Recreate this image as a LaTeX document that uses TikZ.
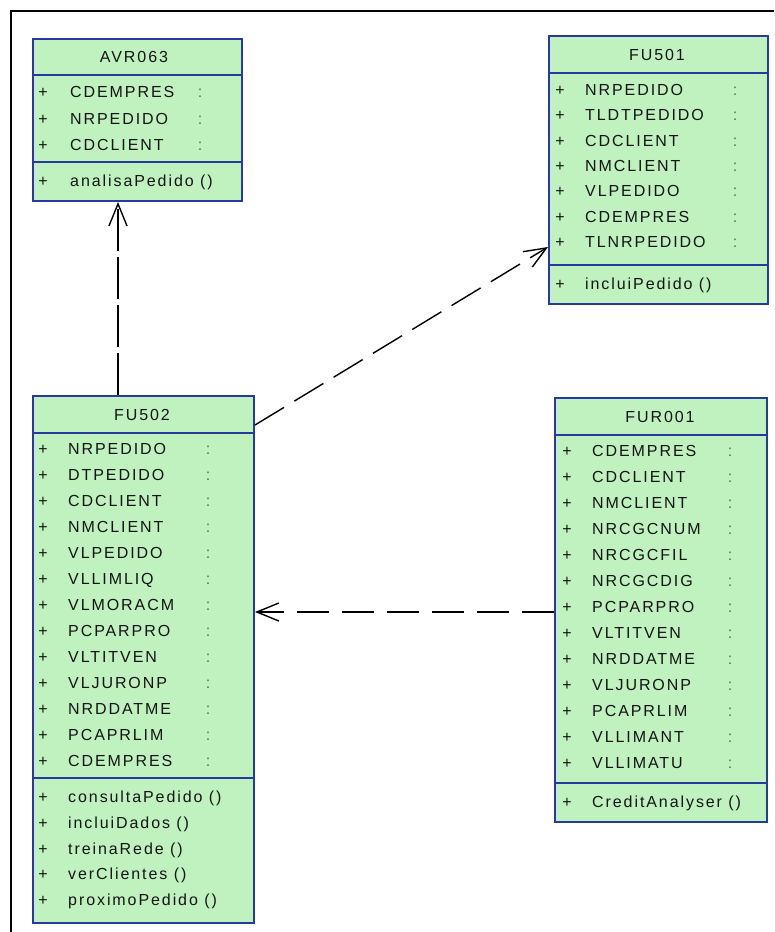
\documentclass[tikz,border=0pt]{standalone}
\usepackage{fontspec}
\setmainfont{Liberation Sans}
\newfontfamily\umlfont[LetterSpace=12]{Liberation Sans}
\usetikzlibrary{arrows.meta}
\definecolor{classfill}{RGB}{192,242,192}
\definecolor{classline}{RGB}{40,58,160}
\definecolor{colongray}{RGB}{95,105,95}
\definecolor{inktext}{RGB}{20,20,20}
\tikzset{
  classbox/.style={draw=classline, line width=2pt, fill=classfill, rectangle, inner sep=0pt, anchor=north west},
  divider/.style={draw=classline, line width=2pt},
  txt/.style={font=\umlfont\fontsize{16}{18}\selectfont, inner sep=0pt, anchor=base west, text=inktext},
  plussign/.style={font=\fontsize{16}{18}\selectfont, inner sep=0pt, anchor=base, text=inktext},
  ttl/.style={font=\umlfont\fontsize{16}{18}\selectfont, inner sep=0pt, anchor=base, text=inktext},
  colonmark/.style={font=\fontsize{16}{18}\selectfont, inner sep=0pt, anchor=base, text=colongray},
  dep/.style={draw=black, line width=1.4pt, -{Straight Barb[length=22pt,width=18pt,line width=1.4pt]}},
}
% #1 prefix, #2 plus-x, #3 name-x, #4 colon-x, #5 first-y, #6 spacing, #7 list
\newcommand\umlattrs[7]{%
  \foreach \n [count=\i from 0] in {#7} {
    \node[plussign] (#1p\i) at (#2,{#5+#6*\i+5.5}) {+};
    \node[txt] (#1n\i) at (#3,{#5+#6*\i+5.5}) {\n};
    \node[colonmark] (#1c\i) at (#4,{#5+#6*\i+5.5}) {:};
  }}
% #1 prefix, #2 plus-x, #3 name-x, #4 first-y, #5 spacing, #6 list
\newcommand\umlops[6]{%
  \foreach \n [count=\i from 0] in {#6} {
    \node[plussign] (#1q\i) at (#2,{#4+#5*\i+5.5}) {+};
    \node[txt] (#1m\i) at (#3,{#4+#5*\i+5.5}) {\n\ ()};
  }}
\begin{document}
\begin{tikzpicture}[x=1pt,y=-1pt]
\useasboundingbox (0,0) rectangle (774,932);
\fill[white] (0,0) rectangle (774,932);
\draw[line width=1.5pt] (11,932) -- (11,11) -- (774,11);

% AVR063
\node[classbox, minimum width=209pt, minimum height=162pt] (avr) at (32,38) {};
\draw[divider] (32,75) -- (241,75);
\draw[divider] (32,162) -- (241,162);
\node[ttl] (avrt) at (134,62) {AVR063};
\umlattrs{avr}{43}{70}{200}{92}{26.5}{CDEMPRES,NRPEDIDO,CDCLIENT}
\umlops{avr}{43}{70}{181}{26}{analisaPedido}

% FU501
\node[classbox, minimum width=219pt, minimum height=268pt] (fu501) at (548,35) {};
\draw[divider] (548,73) -- (767,73);
\draw[divider] (548,265) -- (767,265);
\node[ttl] (fu501t) at (657,60) {FU501};
\umlattrs{fua}{560}{585}{735}{90}{25.3}{NRPEDIDO,TLDTPEDIDO,CDCLIENT,NMCLIENT,VLPEDIDO,CDEMPRES,TLNRPEDIDO}
\umlops{fua}{560}{585}{284}{26}{incluiPedido}

% FU502
\node[classbox, minimum width=221pt, minimum height=527pt] (fu502) at (32,395) {};
\draw[divider] (32,433) -- (253,433);
\draw[divider] (32,778) -- (253,778);
\node[ttl] (fu502t) at (142,420) {FU502};
\umlattrs{fub}{43}{68}{208}{449}{26}{NRPEDIDO,DTPEDIDO,CDCLIENT,NMCLIENT,VLPEDIDO,VLLIMLIQ,VLMORACM,PCPARPRO,VLTITVEN,VLJURONP,NRDDATME,PCAPRLIM,CDEMPRES}
\umlops{fub}{43}{68}{797}{25.75}{consultaPedido,incluiDados,treinaRede,verClientes,proximoPedido}

% FUR001
\node[classbox, minimum width=212pt, minimum height=424pt] (fur) at (554,397) {};
\draw[divider] (554,435) -- (766,435);
\draw[divider] (554,783) -- (766,783);
\node[ttl] (furt) at (660,422) {FUR001};
\umlattrs{fur}{567}{592}{730}{451}{26}{CDEMPRES,CDCLIENT,NMCLIENT,NRCGCNUM,NRCGCFIL,NRCGCDIG,PCPARPRO,VLTITVEN,NRDDATME,VLJURONP,PCAPRLIM,VLLIMANT,VLLIMATU}
\umlops{fur}{567}{592}{802}{26}{CreditAnalyser}

% dependencies
\draw[dep, dash pattern=on 42pt off 6pt] ([xshift=86pt]fu502.north west) -- ([xshift=86pt]avr.south west);
\draw[dep, dash pattern=on 34pt off 12pt] ([yshift=-30pt]fu502.north east) -- ([yshift=-212pt]fu501.north west);
\draw[dep, dash pattern=on 32pt off 13pt] ([yshift=-215pt]fur.north west) -- ([yshift=-215pt]fur.north west -| fu502.east);
\end{tikzpicture}
\end{document}
